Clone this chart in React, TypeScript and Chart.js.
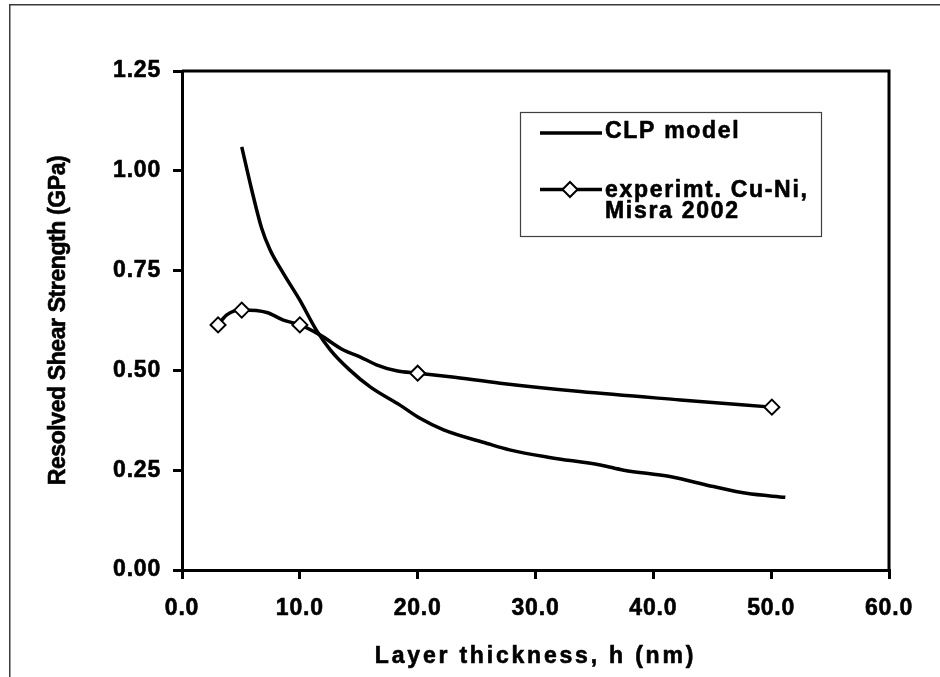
import React, { useEffect, useRef } from "react";
import { Chart, registerables } from "chart.js";

Chart.register(...registerables);

// ---- data ----
const clpX = [5.07, 5.92, 6.76, 7.47, 8.6, 10.0, 11.4, 12.6, 14.2, 16.0, 18.5, 20.2, 22.2, 25.9, 27.8, 31.2, 35.5, 37.5, 41.4, 45.1, 47.9, 51.2];
const clpY = [1.06, 0.952, 0.856, 0.802, 0.743, 0.676, 0.601, 0.551, 0.502, 0.458, 0.413, 0.38, 0.351, 0.317, 0.301, 0.282, 0.263, 0.25, 0.234, 0.209, 0.192, 0.182];

const expLineX = [3.06, 3.8, 5.07, 7.2, 8.6, 10.0, 11.7, 13.7, 15.1, 16.5, 18.2, 20.0, 22.75, 27.0, 33.8, 42.3, 50.06];
const expLineY = [0.614, 0.639, 0.651, 0.645, 0.626, 0.614, 0.589, 0.551, 0.534, 0.514, 0.499, 0.493, 0.484, 0.468, 0.447, 0.426, 0.408];

const expMarkX = [3.06, 5.07, 10.0, 20.0, 50.06];
const expMarkY = [0.614, 0.651, 0.614, 0.493, 0.408];

const xTicks = [0, 10, 20, 30, 40, 50, 60];
const yTicks = [0, 0.25, 0.5, 0.75, 1.0, 1.25];

const clpLabel = ["CLP model"];
const expLabel = ["experimt. Cu-Ni,", "Misra 2002"];
const xTitle = "Layer thickness, h (nm)";
const yTitle = "Resolved Shear Strength (GPa)";

const FONT = '"Liberation Sans", Arial, Helvetica, sans-serif';

// draw with a given letter spacing and a slight stroke to mimic the heavy original text
function withSpacing(chart: any, spacing: string, fn: () => void) {
  const ctx = chart.ctx as any;
  const prev = ctx.letterSpacing;
  const origFill = ctx.fillText;
  ctx.letterSpacing = spacing;
  ctx.fillText = function (t: string, x: number, y: number, mw?: number) {
    if (mw === undefined) origFill.call(this, t, x, y);
    else origFill.call(this, t, x, y, mw);
    this.save();
    this.lineWidth = 0.6;
    this.lineJoin = "round";
    this.strokeStyle = this.fillStyle;
    if (mw === undefined) this.strokeText(t, x, y);
    else this.strokeText(t, x, y, mw);
    this.restore();
  };
  fn();
  ctx.fillText = origFill;
  ctx.letterSpacing = prev || "0px";
}

const decor = {
  id: "decor",
  beforeDraw(chart: any) {
    const ctx = chart.ctx;
    ctx.save();
    ctx.fillStyle = "#ffffff";
    ctx.fillRect(0, 0, chart.width, chart.height);
    ctx.strokeStyle = "#3a3a3a";
    ctx.lineWidth = 1.5;
    ctx.strokeRect(9.75, 4.75, chart.width + 40, chart.height + 40);
    ctx.restore();
    const sx = chart.scales.x;
    const sy = chart.scales.y;
    if (sx && !sx.__wrapped) {
      sx.__wrapped = true;
      const dl = sx.drawLabels.bind(sx);
      const dt = sx.drawTitle.bind(sx);
      sx.drawLabels = (a: any) => withSpacing(chart, "0.8px", () => dl(a));
      sx.drawTitle = (a: any) => withSpacing(chart, "2.8px", () => dt(a));
    }
    if (sy && !sy.__wrapped) {
      sy.__wrapped = true;
      const dl = sy.drawLabels.bind(sy);
      const dt = sy.drawTitle.bind(sy);
      sy.drawLabels = (a: any) => withSpacing(chart, "0.8px", () => dl(a));
      sy.drawTitle = (a: any) => withSpacing(chart, "-0.4px", () => dt(a));
    }
  },
  afterDatasetsDraw(chart: any) {
    const ctx = chart.ctx;
    const { left, right, top, bottom } = chart.chartArea;
    ctx.save();
    // plot frame
    ctx.strokeStyle = "#000";
    ctx.lineWidth = 3;
    ctx.beginPath();
    ctx.moveTo(left, top);
    ctx.lineTo(right, top);
    ctx.lineTo(right, bottom);
    ctx.stroke();

    // legend box
    const bx = 520.5, by = 112.5, bw = 301, bh = 124;
    ctx.fillStyle = "#fff";
    ctx.fillRect(bx, by, bw, bh);
    ctx.strokeStyle = "#404040";
    ctx.lineWidth = 1.2;
    ctx.strokeRect(bx, by, bw, bh);

    const clpDs = chart.data.datasets[2];
    const lineDs = chart.data.datasets[1];
    const markDs = chart.data.datasets[0];

    // entry 1
    ctx.strokeStyle = clpDs.borderColor;
    ctx.lineWidth = clpDs.borderWidth;
    ctx.beginPath();
    ctx.moveTo(540, 133);
    ctx.lineTo(602, 133);
    ctx.stroke();

    // entry 2
    ctx.strokeStyle = lineDs.borderColor;
    ctx.lineWidth = lineDs.borderWidth;
    ctx.beginPath();
    ctx.moveTo(540, 189.5);
    ctx.lineTo(602, 189.5);
    ctx.stroke();
    const r = markDs.pointRadius;
    const cx = 570, cy = 189.5;
    ctx.beginPath();
    ctx.moveTo(cx - r, cy);
    ctx.lineTo(cx, cy - r);
    ctx.lineTo(cx + r, cy);
    ctx.lineTo(cx, cy + r);
    ctx.closePath();
    ctx.fillStyle = markDs.pointBackgroundColor;
    ctx.fill();
    ctx.strokeStyle = markDs.pointBorderColor;
    ctx.lineWidth = markDs.pointBorderWidth;
    ctx.stroke();
    ctx.restore();

    // texts
    withSpacing(chart, "1.7px", () => {
      ctx.save();
      ctx.fillStyle = "#000";
      ctx.font = `bold 23px ${FONT}`;
      ctx.textAlign = "left";
      ctx.textBaseline = "alphabetic";
      ctx.fillText(clpLabel[0], 605, 138);
      ctx.fillText(expLabel[0], 605, 196.5);
      ctx.fillText(expLabel[1], 605, 218);
      ctx.restore();
    });
  },
};

export default function App() {
  const ref = useRef<HTMLCanvasElement | null>(null);

  useEffect(() => {
    if (!ref.current) return;
    const tickFont = { family: FONT, size: 23, weight: "bold" as const };
    const xTitleFont = { family: FONT, size: 23, weight: "bold" as const };
    const yTitleFont = { family: FONT, size: 23, weight: "bold" as const };
    const chart = new Chart(ref.current, {
      type: "scatter",
      data: {
        datasets: [
          {
            label: expLabel.join(" "),
            data: expMarkX.map((x, i) => ({ x, y: expMarkY[i] })),
            showLine: false,
            pointStyle: "rectRot",
            pointRadius: 7.5,
            pointBackgroundColor: "#ffffff",
            pointBorderColor: "#000000",
            pointBorderWidth: 2,
            order: 0,
          } as any,
          {
            label: "exp line",
            data: expLineX.map((x, i) => ({ x, y: expLineY[i] })),
            showLine: true,
            borderColor: "#000000",
            borderWidth: 3.5,
            pointRadius: 0,
            cubicInterpolationMode: "monotone",
            order: 1,
          } as any,
          {
            label: clpLabel[0],
            data: clpX.map((x, i) => ({ x, y: clpY[i] })),
            showLine: true,
            borderColor: "#000000",
            borderWidth: 3.5,
            pointRadius: 0,
            cubicInterpolationMode: "monotone",
            order: 2,
          } as any,
        ],
      },
      options: {
        animation: false,
        responsive: false,
        devicePixelRatio: 1,
        layout: { padding: { top: 71, right: 51, left: 0, bottom: 0 } },
        plugins: {
          legend: { display: false },
          tooltip: { enabled: false },
        },
        scales: {
          x: {
            type: "linear",
            min: 0,
            max: 60,
            afterBuildTicks: (s: any) => {
              s.ticks = xTicks.map((v) => ({ value: v }));
            },
            afterFit: (s: any) => {
              s.height = 107;
            },
            ticks: {
              color: "#000",
              font: tickFont,
              padding: 16,
              maxRotation: 0,
              autoSkip: false,
              callback: (v: any) => Number(v).toFixed(1),
            },
            grid: {
              drawOnChartArea: false,
              drawTicks: true,
              tickLength: 9,
              lineWidth: 3,
              color: "#000",
            },
            border: { display: true, color: "#000", width: 3 },
            title: {
              display: true,
              text: xTitle,
              color: "#000",
              font: xTitleFont,
              padding: { top: 0, bottom: 7 },
            },
          },
          y: {
            type: "linear",
            min: 0,
            max: 1.25,
            afterBuildTicks: (s: any) => {
              s.ticks = yTicks.map((v) => ({ value: v }));
            },
            afterFit: (s: any) => {
              s.width = 182;
            },
            ticks: {
              color: "#000",
              font: tickFont,
              padding: 12,
              autoSkip: false,
              callback: (v: any) => Number(v).toFixed(2),
            },
            grid: {
              drawOnChartArea: false,
              drawTicks: true,
              tickLength: 9,
              lineWidth: 3,
              color: "#000",
            },
            border: { display: true, color: "#000", width: 3 },
            title: {
              display: true,
              text: yTitle,
              color: "#000",
              font: yTitleFont,
              padding: { top: 45, bottom: 0 },
            },
          },
        },
      },
      plugins: [decor],
    });
    return () => chart.destroy();
  }, []);

  return (
    <div style={{ position: "absolute", left: 0, top: 0, width: 940, height: 677, background: "#fff" }}>
      <canvas ref={ref} width={940} height={677} style={{ display: "block", width: 940, height: 677 }} />
    </div>
  );
}
